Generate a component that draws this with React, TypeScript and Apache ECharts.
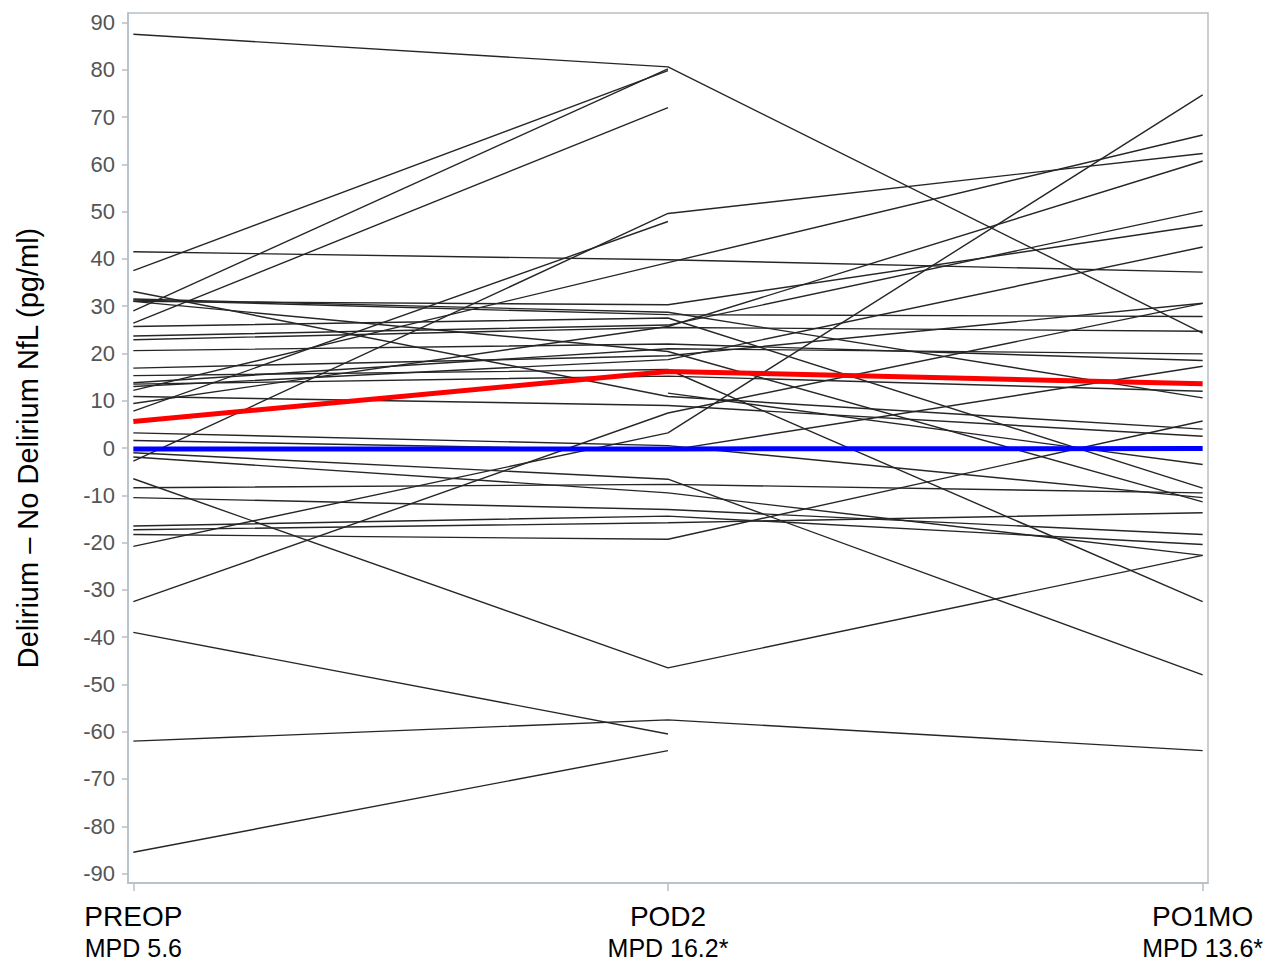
import React, { useEffect, useRef } from "react";
import * as echarts from "echarts";

const categories = ["PREOP", "POD2", "PO1MO"];
const mpdLabels = ["MPD 5.6", "MPD 16.2*", "MPD 13.6*"];
const yTicks = [-90, -80, -70, -60, -50, -40, -30, -20, -10, 0, 10, 20, 30, 40, 50, 60, 70, 80, 90];

// individual subject differences (null = missing)
const preop: (number | null)[] = [
  87.5, 37.5, 29, 26.4, 41.5, -20.8, 12.2, -2.8, 7.8, 9.4,
  31, 23.7, -6.5, -39, -62, -85.5,
  31.5, 31.3, 31, 25.7, 22.9, 20.6, 13.8, 16.9, 13.0, 15.3,
  13.5, null, 33.1, 10.9, -32.5, 3.2, 1.6, -1, -8.4, -1.9,
  -10.5, -16.5, -17.3, -18.3,
];
const pod2: (number | null)[] = [
  80.6, 79.8, 80.2, 72, 39.8, 3.2, 39.2, 49.6, 47.9, 25.7,
  30.3, 26, -46.5, -60.5, -57.5, -64,
  28.7, 28.2, 20.4, 27.5, 25.5, 22, 21, 19.5, 18.7, 16.6,
  15.2, 11.6, 10.9, 9, 7.4, 0.5, -0.5, -6.6, -7.7, -9.5,
  -13, -14.4, -15.8, -19.3,
];
const po1mo: (number | null)[] = [
  24.3, null, null, null, 37.2, 74.7, 66.2, 62.3, null, 60.7,
  47.1, 50.1, -22.7, null, -64, null,
  10.6, 27.8, -11.4, -8.5, 24.7, 18.5, 19.9, 30.6, 42.5, -32.5,
  12, -3.5, 4.0, 2.5, 30.6, -10.5, 17.3, -48, -9.5, -22.7,
  -18.3, -20.4, -13.7, 5.7,
];

const meanDelirium = [5.6, 16.2, 13.6];
const meanNoDelirium = [-0.2, -0.2, -0.1];

function toPoints(vals: (number | null)[]) {
  const pts: [number, number][] = [];
  vals.forEach((v, i) => {
    if (v !== null) pts.push([i, v]);
  });
  return pts;
}

export default function App() {
  const ref = useRef<HTMLDivElement>(null);
  useEffect(() => {
    document.body.style.margin = "0";
    if (!ref.current) return;
    const chart = echarts.init(ref.current, undefined, { renderer: "svg" });
    const subjectSeries = preop.map((_, i) => ({
      type: "line",
      data: toPoints([preop[i], pod2[i], po1mo[i]]),
      symbol: "none",
      lineStyle: { color: "#262626", width: 1.4 },
      silent: true,
      z: 2,
    }));
    const font = "'Liberation Sans', Arial, sans-serif";
    const gray = "#b7bec4";
    chart.setOption({
      animation: false,
      backgroundColor: "#ffffff",
      grid: {
        left: 128,
        top: 13,
        right: 80,
        bottom: 86,
        show: true,
        borderColor: gray,
        borderWidth: 1.5,
        backgroundColor: "transparent",
      },
      xAxis: {
        type: "value",
        min: -0.01,
        max: 2.01,
        splitLine: { show: false },
        axisLine: { show: true, onZero: false, lineStyle: { color: gray, width: 1.5 } },
        axisTick: {
          show: true,
          customValues: [0, 1, 2],
          length: 8,
          lineStyle: { color: gray, width: 1.5 },
        },
        axisLabel: {
          customValues: [0, 1, 2],
          margin: 17,
          fontFamily: font,
          formatter: (v: number) => {
            const i = Math.round(v);
            return `{a|${categories[i]}}\n{b|${mpdLabels[i]}}`;
          },
          rich: {
            a: { fontSize: 28, color: "#000", fontFamily: font, lineHeight: 32 },
            b: { fontSize: 25, color: "#000", fontFamily: font, lineHeight: 32 },
          },
        },
      },
      yAxis: {
        type: "value",
        min: -92,
        max: 92,
        splitLine: { show: false },
        axisLine: { show: true, onZero: false, lineStyle: { color: gray, width: 1.5 } },
        axisTick: {
          show: true,
          customValues: yTicks,
          length: 6,
          lineStyle: { color: gray, width: 1.5 },
        },
        axisLabel: {
          customValues: yTicks,
          margin: 13,
          fontSize: 22,
          color: "#555",
          fontFamily: font,
        },
        name: "Delirium – No Delirium NfL (pg/ml)",
        nameLocation: "middle",
        nameGap: 86,
        nameRotate: 90,
        nameTextStyle: { fontSize: 29, color: "#000", fontFamily: font },
      },
      series: [
        ...subjectSeries,
        {
          type: "line",
          data: toPoints(meanNoDelirium),
          symbol: "none",
          lineStyle: { color: "#0000ff", width: 5 },
          silent: true,
          z: 5,
        },
        {
          type: "line",
          data: toPoints(meanDelirium),
          symbol: "none",
          lineStyle: { color: "#ff0000", width: 5 },
          silent: true,
          z: 6,
        },
      ],
    });
    return () => chart.dispose();
  }, []);
  return <div ref={ref} style={{ width: 1288, height: 969 }} />;
}
